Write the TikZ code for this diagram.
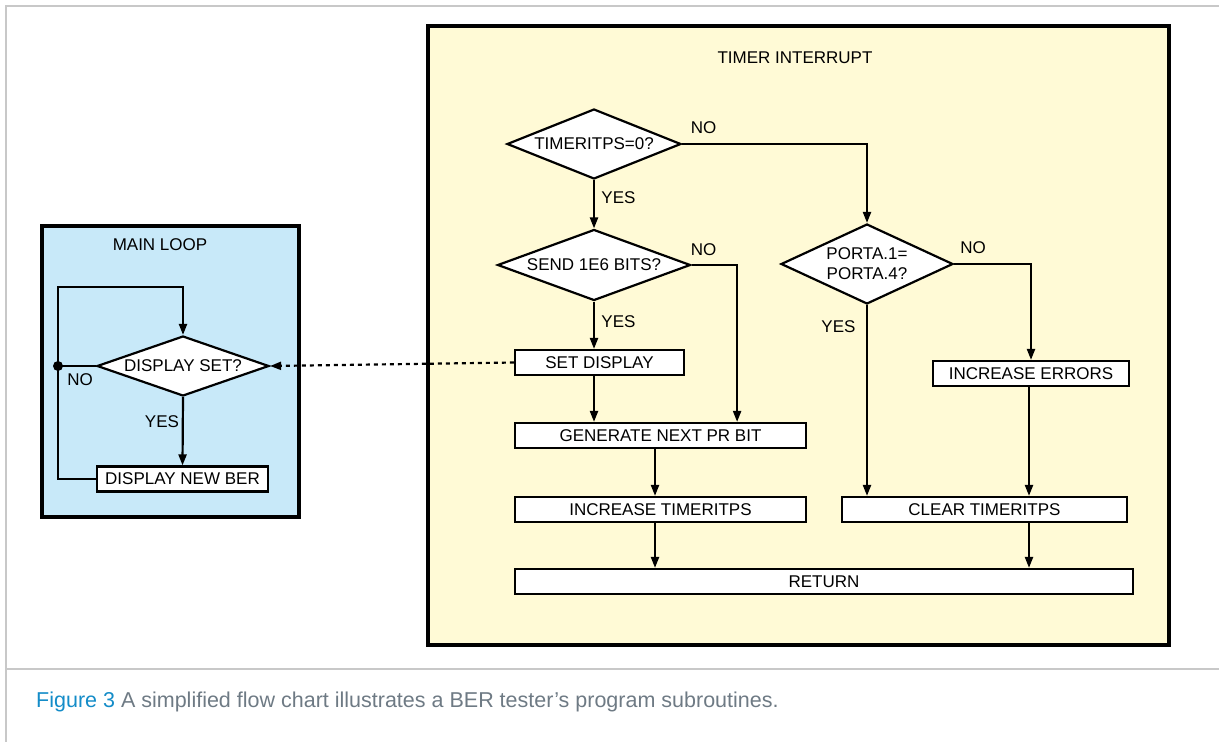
\documentclass[tikz,border=0pt]{standalone}
\usepackage{fontspec}
\setmainfont{Liberation Sans}
\usepackage{tikz}
\usetikzlibrary{shapes.geometric,arrows.meta}
\definecolor{LoopBlue}{RGB}{200,233,249}
\definecolor{TimerYellow}{RGB}{255,250,214}
\definecolor{FrameGray}{RGB}{200,200,200}
\definecolor{CaptionBlue}{RGB}{20,140,200}
\definecolor{CaptionGray}{RGB}{110,122,132}

\begin{document}
\begin{tikzpicture}[x=1pt,y=-1pt,
		font=\fontsize{17}{20}\selectfont,
		box/.style={draw,fill=white,line width=2.2pt,inner sep=0pt,minimum height=25pt},
		decision/.style={diamond,draw,fill=white,line width=2.2pt,inner sep=0pt,align=center},
		flow/.style={line width=2.2pt,-{Triangle[length=11pt,width=8pt]}},
		tag/.style={inner sep=0pt}]
		\useasboundingbox (0,0) rectangle (1219,742);
		\draw[FrameGray,line width=2pt] (1219,6) -- (6,6) -- (6,742);
		\draw[FrameGray,line width=2pt] (6,669) -- (1219,669);
		\draw[line width=3.5pt,fill=LoopBlue] (42,226) rectangle (299,517);
		\draw[line width=3.5pt,fill=TimerYellow] (428,26) rectangle (1169,645);

		\node[tag] (mainloop) at (160,245) {MAIN LOOP};
		\node[decision,aspect=2.87,minimum width=172pt,minimum height=60pt] (dispset) at (183,366) {DISPLAY SET?};
		\node[box,minimum width=171pt] (newber) at (182.5,479) {DISPLAY NEW BER};
		\coordinate (join) at (58,366);
		\coordinate (looptop) at (58,287);
		\fill (join) circle (5pt);
		\draw[line width=2.2pt] (newber.west) -- (join |- newber.west) -- (join) -- (dispset.west);
		\draw[flow] (join) -- (looptop) -| (dispset.north);
		\draw[flow] (dispset.south) -- (newber.north);
		\node[tag] (noloop) at (80,380) {NO};
		\node[tag] (yesloop) at (162,422) {YES};

		\node[tag] (timertitle) at (795,58) {TIMER INTERRUPT};
		\node[decision,aspect=2.49,minimum width=174pt,minimum height=70pt] (zero) at (594,144) {TIMERITPS=0?};
		\node[decision,aspect=2.76,minimum width=193pt,minimum height=71pt] (sendbits) at (594,265) {SEND 1E6 BITS?};
		\node[box,minimum width=169pt] (setdisp) at (599.5,362.5) {SET DISPLAY};
		\node[box,minimum width=291pt] (genbit) at (660.5,435.5) {GENERATE NEXT PR BIT};
		\node[box,minimum width=291pt] (inctimer) at (660.5,509.5) {INCREASE TIMERITPS};
		\node[box,minimum width=618pt] (return) at (824,581.5) {RETURN};
		\node[decision,aspect=2.15,minimum width=172pt,minimum height=80pt] (porta) at (867,264) {PORTA.1=\\PORTA.4?};
		\node[box,minimum width=196pt] (incerr) at (1031,373.5) {INCREASE ERRORS};
		\node[box,minimum width=285pt] (clear) at (984.5,509.5) {CLEAR TIMERITPS};

		\draw[flow] (zero.south) -- (sendbits.north);
		\draw[flow] (zero.east) -| (porta.north);
		\draw[flow] (sendbits.south) -- ([xshift=-5.5pt]setdisp.north);
		\draw[flow] (sendbits.east) -| ([xshift=-70pt]genbit.north east);
		\draw[flow] ([xshift=-5.5pt]setdisp.south) -- ([xshift=-66.5pt]genbit.north);
		\draw[flow] ([xshift=-5.5pt]genbit.south) -- ([xshift=-5.5pt]inctimer.north);
		\draw[flow] ([xshift=-5.5pt]inctimer.south) -- ([xshift=-169pt]return.north);
		\draw[flow] (porta.south) -- ([xshift=-117.5pt]clear.north);
		\draw[flow] (porta.east) -| (incerr.north);
		\draw[flow] ([xshift=-2pt]incerr.south) -- ([xshift=44.5pt]clear.north);
		\draw[flow] ([xshift=44.5pt]clear.south) -- ([xshift=205pt]return.north);
		\draw[line width=2.2pt,dash pattern=on 4pt off 4pt,-{Triangle[length=11pt,width=8pt]}] (setdisp.west) -- (dispset.east);

		\node[tag] (nozero) at (703.5,128) {NO};
		\node[tag] (yeszero) at (618.5,198) {YES};
		\node[tag] (nobits) at (703.5,250) {NO};
		\node[tag] (yesbits) at (618.5,322) {YES};
		\node[tag] (noporta) at (973,248) {NO};
		\node[tag] (yesporta) at (838.5,327) {YES};

		\node[anchor=base west,inner sep=0pt,font=\fontsize{21.5}{24}\selectfont] (caption) at (36,707) {\textcolor{CaptionBlue}{Figure 3} \textcolor{CaptionGray}{A simplified flow chart illustrates a BER tester’s program subroutines.}};
	\end{tikzpicture}
\end{document}
